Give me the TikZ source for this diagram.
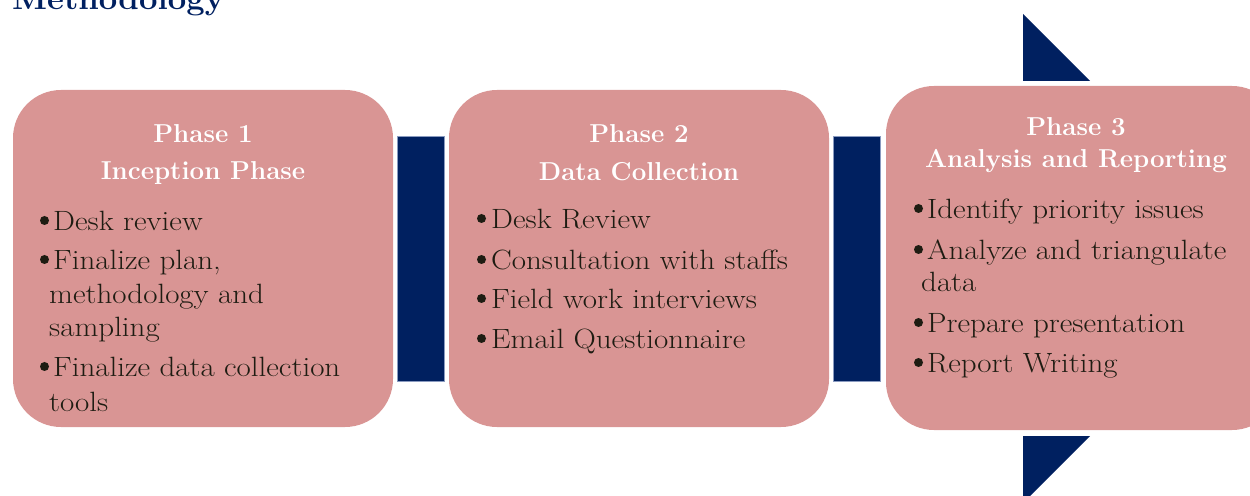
\documentclass[tikz,border=0pt]{standalone}
\definecolor{boxpink}{HTML}{D99594}
\definecolor{navy}{HTML}{002060}
\definecolor{navyedge}{HTML}{8A9BC0}
\definecolor{itemtext}{HTML}{1E1C12}
\newcommand\wideitem[1]{\scalebox{1.11}[1]{#1}}
\begin{document}
\begin{tikzpicture}[x=1bp,y=-1bp,
  phasebox/.style={fill=boxpink, draw=none, rounded corners=48bp, inner sep=0pt, outer sep=0pt, anchor=north west},
  connbar/.style={fill=navy, draw=navyedge, line width=0.6bp, inner sep=0pt, outer sep=0pt, anchor=north west},
  phasetitle/.style={text=white, font=\fontsize{26}{30}\selectfont\bfseries, inner sep=0pt, anchor=base},
  itemline/.style={text=itemtext, font=\fontsize{28}{32}\selectfont, inner sep=0pt, anchor=base west},
  bulletdot/.style={circle, fill=itemtext, draw=none, minimum size=9bp, inner sep=0pt, outer sep=0pt},
  headline/.style={text=navy, font=\fontsize{32}{36}\selectfont\bfseries, inner sep=0pt, anchor=base west}]
\useasboundingbox (0,0) rectangle (1250,496);
\clip (0,0) rectangle (1250,496);

% heading
\node[headline] (head) at (12,10) {\scalebox{1.03}[1]{Methodology}};

% big arrow parts
\fill[navy] (1023,14) -- (1023,81) -- (1090,81) -- cycle;
\fill[navy] (1023,436) -- (1090,436) -- (1023,503) -- cycle;

% phase boxes
\node[phasebox, minimum width=380bp, minimum height=337bp] (p1) at (13,90) {};
\node[phasebox, minimum width=380bp, minimum height=337bp] (p2) at (449,90) {};
\node[phasebox, minimum width=394bp, minimum height=344bp] (p3) at (886,86) {};

% connector bars
\node[connbar, minimum width=47bp, minimum height=245bp] (c1) at (397,136) {};
\node[connbar, minimum width=47bp, minimum height=245bp] (c2) at (833,136) {};

% Phase 1
\node[phasetitle] (p1a) at (203,143) {Phase 1};
\node[phasetitle] (p1b) at (203,180) {Inception Phase};
\node[bulletdot] (p1b1) at (44.5,220.5) {};
\node[itemline] (p1i1) at (53,231) {\wideitem{Desk review}};
\node[bulletdot] (p1b2) at (44.5,259.5) {};
\node[itemline] (p1i2) at (53,270) {\wideitem{Finalize plan,}};
\node[itemline] (p1i2b) at (49,304) {\wideitem{methodology and}};
\node[itemline] (p1i2c) at (49,337) {\wideitem{sampling}};
\node[bulletdot] (p1b3) at (44.5,366.5) {};
\node[itemline] (p1i3) at (53,377) {\wideitem{Finalize data collection}};
\node[itemline] (p1i3b) at (49,411) {\wideitem{tools}};

% Phase 2
\node[phasetitle] (p2a) at (639,143) {Phase 2};
\node[phasetitle] (p2b) at (639,181) {Data Collection};
\node[bulletdot] (p2b1) at (481.5,218.5) {};
\node[itemline] (p2i1) at (491,229) {\wideitem{Desk Review}};
\node[bulletdot] (p2b2) at (481.5,259.5) {};
\node[itemline] (p2i2) at (491,270) {\wideitem{Consultation with staffs}};
\node[bulletdot] (p2b3) at (481.5,298.5) {};
\node[itemline] (p2i3) at (491,309) {\wideitem{Field work interviews}};
\node[bulletdot] (p2b4) at (481.5,338.5) {};
\node[itemline] (p2i4) at (491,349) {\wideitem{Email Questionnaire}};

% Phase 3
\node[phasetitle] (p3a) at (1076,136) {Phase 3};
\node[phasetitle] (p3b) at (1076,168) {Analysis and Reporting};
\node[bulletdot] (p3b1) at (918.5,208.5) {};
\node[itemline] (p3i1) at (927,219) {\wideitem{Identify priority issues}};
\node[bulletdot] (p3b2) at (918.5,249.5) {};
\node[itemline] (p3i2) at (927,260) {\wideitem{Analyze and triangulate}};
\node[itemline] (p3i2b) at (921,292) {\wideitem{data}};
\node[bulletdot] (p3b3) at (918.5,322.5) {};
\node[itemline] (p3i3) at (927,333) {\wideitem{Prepare presentation}};
\node[bulletdot] (p3b4) at (918.5,362.5) {};
\node[itemline] (p3i4) at (927,373) {\wideitem{Report Writing}};
\end{tikzpicture}
\end{document}
